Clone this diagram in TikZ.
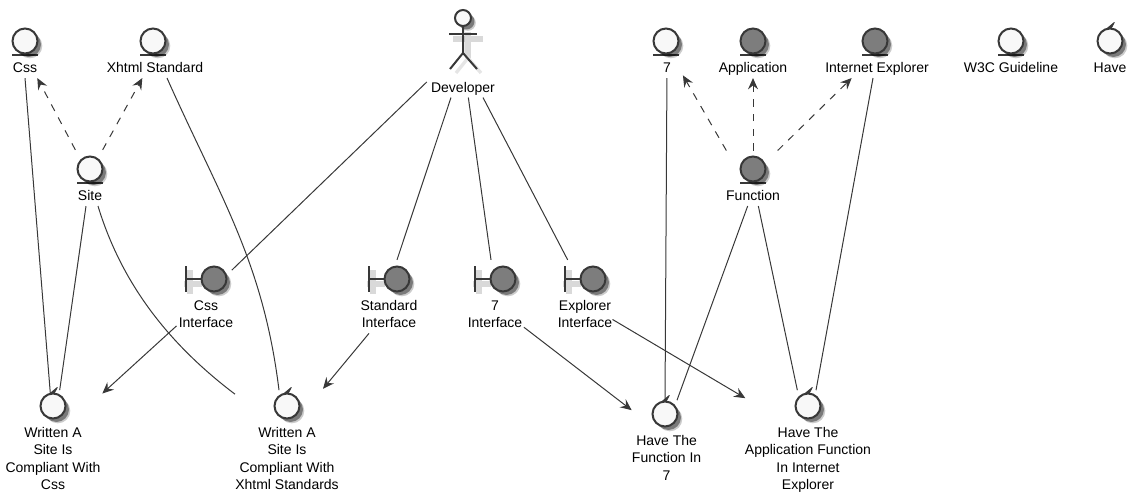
\documentclass[tikz,border=0pt]{standalone}
\usepackage{fontspec}
\setmainfont{Liberation Sans}
\usetikzlibrary{positioning,shadows,arrows.meta}
\definecolor{umlline}{RGB}{56, 56, 56}
\definecolor{umllight}{RGB}{248, 248, 248}
\definecolor{umldark}{RGB}{125, 125, 125}

\begin{document}
\begin{tikzpicture}[
    x=0.75pt, y=-0.75pt,
    node distance=5pt and 0pt,
    soft shadow/.style={drop shadow={shadow xshift=3.6pt, shadow yshift=-3.6pt, fill=black, opacity=0.2}, drop shadow={shadow xshift=2.6pt, shadow yshift=-2.6pt, fill=black, opacity=0.4}},
    shape base/.style={circle, draw=umlline, line width=1.5pt, fill=umllight, minimum size=18.75pt, inner sep=0pt, outer sep=0pt, soft shadow},
    dark/.style={fill=umldark},
    entity/.style={shape base, append after command={\pgfextra{\draw[umlline, line width=1.5pt] ([xshift=-9.4pt, yshift=-1pt]\tikzlastnode.south) -- ([xshift=9.4pt, yshift=-1pt]\tikzlastnode.south);}}},
    boundary/.style={shape base, append after command={\pgfextra{
        \draw[black!15, line width=4.5pt] ([xshift=-13pt, yshift=-3.7pt]\tikzlastnode.west) -- ([yshift=-3.7pt]\tikzlastnode.west);
        \draw[black!15, line width=4.5pt] ([xshift=-8.6pt, yshift=6.7pt]\tikzlastnode.west) -- ([xshift=-8.6pt, yshift=-11pt]\tikzlastnode.west);
        \draw[umlline, line width=1.5pt] (\tikzlastnode.west) -- ([xshift=-12pt]\tikzlastnode.west);
        \draw[umlline, line width=1.5pt] ([xshift=-12pt, yshift=9.5pt]\tikzlastnode.west) -- ([xshift=-12pt, yshift=-9.5pt]\tikzlastnode.west);}}},
    control/.style={shape base, append after command={\pgfextra{\filldraw[umlline, line width=0.6pt, line join=round] ([xshift=-3.5pt, yshift=-1pt]\tikzlastnode.north) -- ([xshift=3.2pt, yshift=-5.5pt]\tikzlastnode.north) -- ([xshift=0.3pt, yshift=-1pt]\tikzlastnode.north) -- ([xshift=3.2pt, yshift=4.5pt]\tikzlastnode.north) -- cycle;}}},
    txt/.style={font=\fontsize{10.5pt}{13pt}\selectfont, align=center, inner sep=0pt, text=black, execute at begin node=\strut},
    conn/.style={umlline, line width=0.75pt},
    arrow/.style={conn, -{Stealth[length=8.5pt, width=7.5pt, inset=3pt]}},
    dep/.style={arrow, dash pattern=on 5.5pt off 5.5pt}
]
\useasboundingbox (0,0) rectangle (1137,501);

% Entities on the top row
\node[entity] (css) at (25,41) {};
\node[txt, below=of css] (css_t) {Css};
\node[entity] (xhtml) at (153,41) {};
\node[txt, below=of xhtml, xshift=1.5pt] (xhtml_t) {Xhtml Standard};
\node[entity] (site) at (90,169) {};
\node[txt, below=of site] (site_t) {Site};
\node[entity] (seven) at (666,41) {};
\node[txt, below=of seven, xshift=0.7pt] (seven_t) {7};
\node[entity, dark] (app) at (753,41) {};
\node[txt, below=of app] (app_t) {Application};
\node[entity, dark] (ie) at (875,41) {};
\node[txt, below=of ie, xshift=1.5pt] (ie_t) {Internet Explorer};
\node[entity] (w3c) at (1011,41) {};
\node[txt, below=of w3c] (w3c_t) {W3C Guideline};
\node[control] (have) at (1110,41) {};
\node[txt, below=of have] (have_t) {Have};
\node[entity, dark] (func) at (753,169) {};
\node[txt, below=of func] (func_t) {Function};

% Actor
\draw[black!15, line width=4pt] (453,39) -- (483,39);
\draw[black!15, line width=4pt] (468,32) -- (468,58);
\draw[black!10, line width=2.5pt] (456,73) -- (468,58) -- (481,73);
\node[circle, draw=umlline, line width=1.5pt, fill=umllight, minimum size=12pt, inner sep=0pt, soft shadow] (dev) at (463,18) {};
\node[txt, below=39.5pt of dev] (dev_t) {Developer};
\draw[umlline, line width=1.5pt] (dev.south) -- (463,53) -- (450,69);
\draw[umlline, line width=1.5pt] (463,53) -- (477,69);
\draw[umlline, line width=1.5pt] (449,34) -- (477,34);

% Boundaries
\node[boundary, dark] (cssi) at (214,279) {};
\node[txt, below=6.5pt of cssi, xshift=-6pt] (cssi_t) {Css\\Interface};
\node[boundary, dark] (stdi) at (397,279) {};
\node[txt, below=6.5pt of stdi, xshift=-6pt] (stdi_t) {Standard\\Interface};
\node[boundary, dark] (svni) at (503,279) {};
\node[txt, below=6.5pt of svni, xshift=-6pt] (svni_t) {7\\Interface};
\node[boundary, dark] (expi) at (593,279) {};
\node[txt, below=6.5pt of expi, xshift=-6pt] (expi_t) {Explorer\\Interface};

% Controls on the bottom row
\node[control] (wcss) at (53,406) {};
\node[txt, below=6.5pt of wcss] (wcss_t) {Written A\\Site Is\\Compliant With\\Css};
\node[control] (wstd) at (287,406) {};
\node[txt, below=6.5pt of wstd] (wstd_t) {Written A\\Site Is\\Compliant With\\Xhtml Standards};
\node[control] (hfun) at (665,414) {};
\node[txt, below=6.5pt of hfun, xshift=1.2pt] (hfun_t) {Have The\\Function In\\7};
\node[control] (happ) at (808,406) {};
\node[txt, below=6.5pt of happ] (happ_t) {Have The\\Application Function\\In Internet\\Explorer};

% Dashed arrows
\draw[dep] ([xshift=-11pt, yshift=5pt]site.north) -- (css_t.south east);
\draw[dep] ([xshift=9.5pt, yshift=5pt]site.north) -- ([xshift=-9.5pt]xhtml_t.south);
\draw[dep] ([xshift=-20pt, yshift=4.5pt]func.north) -- ([xshift=12pt, yshift=2pt]seven_t.south);
\draw[dep] ([yshift=4.5pt]func.north) -- (app_t.south);
\draw[dep] ([xshift=18.5pt, yshift=4.5pt]func.north) -- ([xshift=-19pt]ie_t.south);

% Lines from the entities
\draw[conn] (css_t.south) -- ([xshift=-2pt]wcss.north);
\draw[conn] ([xshift=-3pt]site_t.south) -- ([xshift=5pt, yshift=2.5pt]wcss.north);
\draw[conn] ([xshift=6pt]site_t.south) .. controls (122,285) and (170,345) .. ([xshift=-39pt, yshift=-0.5pt]wstd.north);
\draw[conn] ([xshift=9pt]xhtml_t.south) to[out=-66, in=97] ([xshift=-6pt, yshift=2.5pt]wstd.north);
\draw[conn] (seven_t.south) -- (hfun.north);
\draw[conn] ([xshift=-4pt]func_t.south) -- ([xshift=9pt, yshift=1pt]hfun.north);
\draw[conn] ([xshift=4pt]func_t.south) -- ([xshift=-8pt, yshift=2.5pt]happ.north);
\draw[conn] ([xshift=-3pt]ie_t.south) -- ([xshift=6pt, yshift=2.5pt]happ.north);

% Lines from the actor
\draw[conn] ([xshift=-3pt, yshift=5pt]dev_t.west) -- ([xshift=6.7pt]cssi.north east);
\draw[conn] ([xshift=-9pt]dev_t.south) -- ([yshift=5pt]stdi.north);
\draw[conn] ([xshift=4pt]dev_t.south) -- ([xshift=-9pt, yshift=5pt]svni.north);
\draw[conn] ([xshift=15pt]dev_t.south) -- ([xshift=-19pt, yshift=5pt]expi.north);

% Arrows from the boundaries
\draw[arrow] ([xshift=-1.5pt, yshift=-7pt]cssi_t.west) -- ([xshift=37pt]wcss.north);
\draw[arrow] ([xshift=-15pt]stdi_t.south) -- ([xshift=27pt, yshift=3.5pt]wstd.north);
\draw[arrow] ([xshift=1pt, yshift=-8pt]svni_t.east) -- ([xshift=-25pt, yshift=-6.5pt]hfun.north);
\draw[arrow] ([yshift=-2pt]expi_t.east) -- ([xshift=-47pt, yshift=-3.5pt]happ.north);

\end{tikzpicture}
\end{document}
